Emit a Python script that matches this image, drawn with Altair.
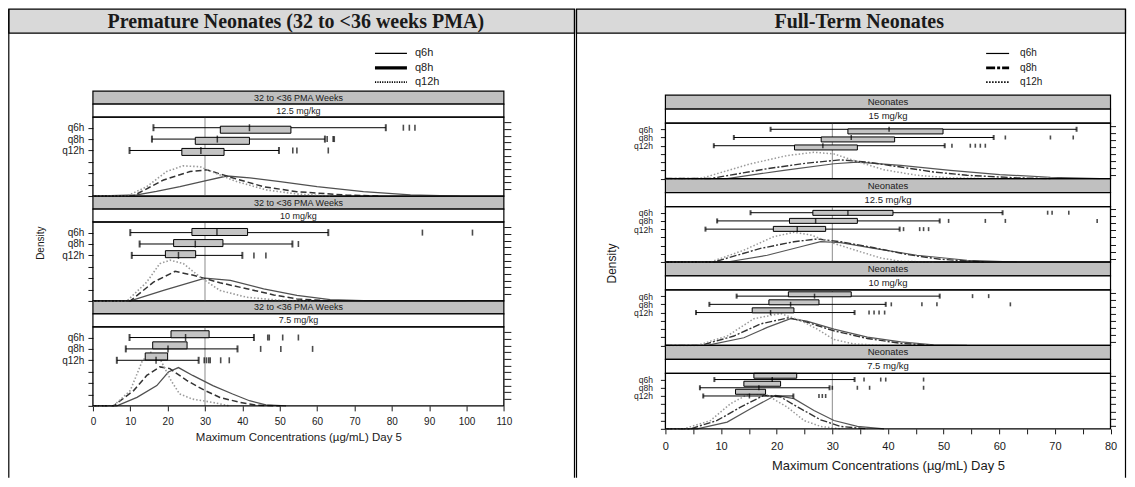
import altair as alt
import pandas as pd

# ---------------- data ----------------
REGIMENS = ["q6h", "q8h", "q12h"]
ROW_TICK = {"q6h": 6, "q8h": 5, "q12h": 4}

TITLE_LEFT = "Premature Neonates (32 to <36 weeks PMA)"
TITLE_RIGHT = "Full-Term Neonates"
STRIP_LEFT = "32 to <36 PMA Weeks"
STRIP_RIGHT = "Neonates"
DOSES_LEFT = ["12.5 mg/kg", "10 mg/kg", "7.5 mg/kg"]
DOSES_RIGHT = ["15 mg/kg", "12.5 mg/kg", "10 mg/kg", "7.5 mg/kg"]
X_TITLE_LEFT = "Maximum Concentrations (µg/mL) Day 5"
X_TITLE_RIGHT = "Maximum Concentrations (µg/mL)  Day 5"
X_TICKS_LEFT = [0, 10, 20, 30, 40, 50, 60, 70, 80, 90, 100, 110]
X_TICKS_RIGHT = [0, 5, 10, 15, 20, 25, 30, 35, 40, 45, 50, 55, 60, 65, 70, 75, 80]
REF_CONC = 30

# box stats: [whisker low, q1, median, q3, whisker high]
PRE_125_BOX = {"q6h": [16.2, 34.1, 41.9, 53.0, 78.4], "q8h": [15.8, 27.4, 33.3, 41.9, 62.1], "q12h": [9.8, 23.8, 28.9, 35.1, 49.8]}
PRE_125_OUT = {"q6h": [83.1, 84.7, 86.2], "q8h": [62.7, 64.3, 64.6], "q12h": [53.5, 54.6, 63.0]}
PRE_125_DEN = {
    "q6h": [(0, 0), (11.8, 0.1), (17, 0.4), (23.3, 0.82), (30, 1.34), (35.8, 1.76), (42, 1.6), (50.1, 1.27), (60, 0.82), (72.4, 0.38), (85, 0.1), (98.2, 0)],
    "q8h": [(0, 0), (10.7, 0), (18.9, 1.41), (26, 2.15), (30.5, 2.3), (36.8, 1.65), (45.7, 0.82), (54.6, 0.38), (68, 0.08), (77, 0)],
    "q12h": [(0, 0), (9.1, 0), (14.4, 0.82), (19.7, 2.15), (24.1, 2.65), (28.6, 2.58), (34, 1.85), (38.5, 1.27), (46.5, 0.53), (54.6, 0.18), (63.5, 0)],
}
PRE_10_BOX = {"q6h": [10.0, 26.5, 33.2, 41.4, 63.0], "q8h": [12.5, 21.6, 27.4, 34.8, 53.4], "q12h": [10.4, 19.4, 22.9, 27.5, 40.0]}
PRE_10_OUT = {"q6h": [88.2, 101.6], "q8h": [55.0], "q12h": [43.1, 46.3]}
PRE_10_DEN = {
    "q6h": [(0, 0), (10, 0), (18.9, 0.92), (30, 2.0), (36.8, 1.8), (45.7, 1.07), (54.6, 0.48), (63.5, 0.11), (72.4, 0.03), (100, 0)],
    "q8h": [(0, 0), (10, 0), (16.2, 1.65), (22, 2.6), (26.9, 2.25), (34, 1.6), (41.2, 1.07), (48.4, 0.53), (54.6, 0.18), (63.5, 0)],
    "q12h": [(0, 0), (9.1, 0), (14.4, 1.65), (17.9, 3.28), (20.7, 3.58), (24.2, 3.28), (28.7, 2.1), (34, 0.92), (41.2, 0.32), (50.1, 0.06), (59, 0)],
}
PRE_75_BOX = {"q6h": [9.8, 20.9, 24.8, 31.1, 43.1], "q8h": [8.8, 16.0, 20.1, 25.2, 38.7], "q12h": [6.4, 14.0, 16.9, 20.0, 28.3]}
PRE_75_OUT = {"q6h": [46.8, 47.2, 50.8, 55.0], "q8h": [44.9, 50.3, 58.8], "q12h": [29.8, 30.4, 31.0, 31.4, 34.2, 36.5]}
PRE_75_DEN = {
    "q6h": [(0, 0), (6.4, 0), (11.8, 0.74), (17.1, 1.78), (20.2, 2.97), (22.9, 3.36), (26.7, 2.67), (32.1, 1.78), (37.4, 1.04), (41.9, 0.45), (46.3, 0.09), (51.7, 0)],
    "q8h": [(0, 0), (5.5, 0), (10.9, 1.34), (14.4, 2.67), (17.9, 3.42), (20.6, 3.27), (25.1, 2.23), (30, 1.34), (34, 0.74), (39.4, 0.3), (43.9, 0.06), (50.1, 0)],
    "q12h": [(0, 0), (5.5, 0), (10, 1.34), (13.1, 3.86), (15.3, 4.75), (17.9, 4.16), (20.9, 2.23), (23.2, 1.04), (26.7, 0.59), (32.1, 0.3), (36.5, 0)],
}

TERM_15_BOX = {"q6h": [18.9, 32.8, 40.2, 49.9, 73.9], "q8h": [12.3, 28.0, 33.4, 41.2, 59.0], "q12h": [8.7, 23.2, 28.3, 34.5, 50.2]}
TERM_15_OUT = {"q6h": [], "q8h": [61.1, 69.2, 73.3], "q12h": [51.5, 54.8, 55.7, 56.6, 57.5]}
TERM_15_DEN = {
    "q6h": [(0, 0), (11.1, 0), (21.3, 1.0), (30.3, 1.8), (34.5, 2.0), (42.3, 1.6), (51.2, 1.0), (60.1, 0.48), (69.2, 0.16), (78.1, 0)],
    "q8h": [(0, 0), (8.1, 0), (18.3, 1.2), (25.4, 1.88), (31.5, 2.28), (36.3, 2.0), (42.3, 1.4), (48.2, 0.8), (54.2, 0.4), (63.2, 0.08), (69.2, 0)],
    "q12h": [(0, 0), (6.3, 0), (15.3, 1.8), (21.9, 2.8), (26.7, 3.2), (30.3, 3.0), (33.9, 2.2), (39.2, 1.08), (45.2, 0.4), (51.2, 0.08), (57.2, 0)],
}
TERM_125_BOX = {"q6h": [15.3, 26.5, 32.8, 40.9, 60.6], "q8h": [9.3, 22.3, 27.0, 34.5, 49.3], "q12h": [7.2, 19.4, 23.7, 28.8, 42.1]}
TERM_125_OUT = {"q6h": [68.7, 69.5, 72.5], "q8h": [50.9, 57.5, 61.1, 77.6], "q12h": [42.8, 45.7, 46.4, 47.3]}
TERM_125_DEN = {
    "q6h": [(0, 0), (11.1, 0), (18.3, 0.82), (24.3, 1.85), (27.9, 2.47), (31.5, 2.35), (37.5, 1.65), (45.2, 0.82), (54.2, 0.21), (63.2, 0)],
    "q8h": [(0, 0), (8.7, 0), (17.1, 1.65), (23.1, 2.47), (27.3, 2.8), (31.5, 2.47), (37.5, 1.73), (43.5, 0.9), (49.4, 0.33), (57.2, 0)],
    "q12h": [(0, 0), (8.1, 0), (14.1, 1.44), (19.5, 3.09), (23.1, 3.62), (26.1, 3.29), (30.3, 2.26), (35.1, 1.23), (38.7, 0.49), (42.3, 0.08), (48.2, 0)],
}
TERM_10_BOX = {"q6h": [12.8, 22.1, 26.8, 33.4, 49.3], "q8h": [7.9, 18.6, 22.5, 27.6, 39.6], "q12h": [5.5, 15.6, 18.9, 23.1, 34.0]}
TERM_10_OUT = {"q6h": [55.2, 58.1], "q8h": [40.6, 46.1, 48.8, 62.0], "q12h": [36.6, 37.5, 38.4, 39.4]}
TERM_10_DEN = {
    "q6h": [(0, 0), (7.5, 0), (14.1, 0.93), (18.3, 2.19), (22.5, 3.25), (25.4, 2.95), (30.3, 1.98), (36.3, 1.01), (42.3, 0.42), (48.2, 0.08), (54.2, 0)],
    "q8h": [(0, 0), (6.3, 0), (12.3, 1.14), (17.1, 2.62), (22.2, 3.38), (25.4, 2.83), (30.3, 1.77), (36.3, 0.84), (42.3, 0.25), (48.2, 0)],
    "q12h": [(0, 0), (5.7, 0), (11.1, 1.14), (15.9, 3.25), (20.7, 3.88), (24.3, 3.04), (27.3, 1.98), (30.3, 0.72), (33.9, 0.17), (39.2, 0)],
}
TERM_75_BOX = {"q6h": [8.8, 15.9, 19.2, 23.6, 34.0], "q8h": [6.2, 14.1, 16.8, 20.7, 29.5], "q12h": [6.8, 12.6, 15.1, 18.0, 23.0]}
TERM_75_OUT = {"q6h": [35.7, 38.7, 39.6, 46.4], "q8h": [30.0, 34.5, 36.7, 46.4], "q12h": [27.6, 28.2, 28.8]}
TERM_75_DEN = {
    "q6h": [(0, 0), (5.7, 0), (11.1, 0.82), (15.3, 2.45), (19.8, 4.08), (23.1, 3.67), (26.7, 2.24), (30.3, 1.02), (34.5, 0.29), (39.3, 0)],
    "q8h": [(0, 0), (4.5, 0), (9.3, 1.02), (13.5, 2.65), (17.7, 4.08), (20.7, 3.88), (24.3, 2.45), (27.9, 1.1), (31.5, 0.29), (36.3, 0)],
    "q12h": [(0, 0), (3.3, 0), (8.1, 1.0), (11.7, 3.06), (15.3, 4.37), (18.3, 4.08), (21.9, 2.65), (24.9, 1.02), (27.9, 0.29), (31.5, 0)],
}

FONT = "Liberation Sans"

G_LEFT = dict(
    title=TITLE_LEFT, title_x=203, strip=STRIP_LEFT, doses=DOSES_LEFT,
    boxes=[PRE_125_BOX, PRE_10_BOX, PRE_75_BOX], outs=[PRE_125_OUT, PRE_10_OUT, PRE_75_OUT],
    dens=[PRE_125_DEN, PRE_10_DEN, PRE_75_DEN],
    xmax=110, xticks=X_TICKS_LEFT, xlab_every=10, x_title=X_TITLE_LEFT,
    W=411.3, H=397, L=84.2, R=482.0, frame_bottom=469,
    unit=11.4, plot_h=79, strip_h=13,
    box=7, cap=7, out=6, strip_size=9,
    ylab_size=10, ylab_pad=4, ytitle_x=-47, ytitle_y=233.7, ytitle_size=10,
    xlab_size=10, xlab_pad=6, xtitle_size=11.5, xtitle_pad=5,
    rt_off=7, rt_step=6.67, rt_n=11, rt_size=7,
    leg_x0=282.3, leg_x1=314.3, leg_tx=322.3, leg_rows=[44.3, 58.7, 73], leg_size=11,
    leg_styles={"q6h": dict(strokeWidth=1.2), "q8h": dict(strokeWidth=3.2),
                "q12h": dict(strokeWidth=1.8, strokeDash=[1.2, 1.2])},
    line_styles={"q6h": dict(color="#505050", strokeWidth=1.3),
                 "q8h": dict(color="#333333", strokeWidth=1.5, strokeDash=[6, 3]),
                 "q12h": dict(color="#9a9a9a", strokeWidth=1.6, strokeDash=[1.5, 2])},
)

G_RIGHT = dict(
    title=TITLE_RIGHT, title_x=194, strip=STRIP_RIGHT, doses=DOSES_RIGHT,
    boxes=[TERM_15_BOX, TERM_125_BOX, TERM_10_BOX, TERM_75_BOX],
    outs=[TERM_15_OUT, TERM_125_OUT, TERM_10_OUT, TERM_75_OUT],
    dens=[TERM_15_DEN, TERM_125_DEN, TERM_10_DEN, TERM_75_DEN],
    xmax=80, xticks=X_TICKS_RIGHT, xlab_every=10, x_title=X_TITLE_RIGHT,
    W=445.5, H=420, L=89, R=460.5, frame_bottom=469,
    unit=8.22, plot_h=55.5, strip_h=14,
    box=5, cap=5, out=4, strip_size=9.5,
    ylab_size=8.5, ylab_pad=8, ytitle_x=-47, ytitle_y=254, ytitle_size=12,
    xlab_size=11, xlab_pad=6.5, xtitle_size=13, xtitle_pad=8,
    rt_off=3.3, rt_step=7.1, rt_n=8, rt_size=5,
    leg_x0=321, leg_x1=344, leg_tx=355, leg_rows=[44.3, 58.7, 73], leg_size=10,
    leg_styles={"q6h": dict(strokeWidth=1.2), "q8h": dict(strokeWidth=2.6, strokeDash=[9, 2, 3, 2]),
                "q12h": dict(strokeWidth=1.8, strokeDash=[1.5, 1.5])},
    line_styles={"q6h": dict(color="#555555", strokeWidth=1.2),
                 "q8h": dict(color="#333333", strokeWidth=1.4, strokeDash=[7, 2, 2, 2]),
                 "q12h": dict(color="#9a9a9a", strokeWidth=1.5, strokeDash=[1.5, 2])},
)


def build_side(G):
    W, H = G["W"], G["H"]
    nf = len(G["doses"])
    period = G["plot_h"] + 2 * G["strip_h"]
    unit = G["unit"]

    fac_rows, box_rows, cap_rows, out_rows, den_rows = [], [], [], [], []
    yt_left, lab_pairs, yt_right = [], [], []
    for i, dose in enumerate(G["doses"]):
        base = (nf - 1 - i) * period
        p1 = base + G["plot_h"]
        fac_rows.append(dict(facet=dose, x0=0, x1=G["xmax"], ref=REF_CONC, p0=base, p1=p1,
                             w0=p1, w1=p1 + G["strip_h"], g0=p1 + G["strip_h"], g1=base + period,
                             wc=p1 + G["strip_h"] / 2, gc=p1 + 1.5 * G["strip_h"],
                             strip=G["strip"], dose=dose))
        for k in range(7):
            yt_left.append(round(base + k * unit, 3))
        for j in range(G["rt_n"]):
            yt_right.append(round(base + G["rt_off"] + j * G["rt_step"], 3))
        for reg in REGIMENS:
            yrow = round(base + ROW_TICK[reg] * unit, 3)
            lab_pairs.append((yrow, reg))
            wlo, q1, med, q3, whi = G["boxes"][i][reg]
            box_rows.append(dict(facet=dose, regimen=reg, y=yrow, wlo=wlo, q1=q1, med=med, q3=q3, whi=whi))
            cap_rows.append(dict(x=wlo, y=yrow))
            cap_rows.append(dict(x=whi, y=yrow))
            for o in G["outs"][i][reg]:
                out_rows.append(dict(x=o, y=yrow))
            for n, (xv, dv) in enumerate(G["dens"][i][reg]):
                den_rows.append(dict(facet=dose, regimen=reg, i=n, x=xv, y=base + dv * unit))

    fac = pd.DataFrame(fac_rows)
    boxes = pd.DataFrame(box_rows)
    caps = pd.DataFrame(cap_rows)
    outs = pd.DataFrame(out_rows)
    den = pd.DataFrame(den_rows)
    one = pd.DataFrame({"k": [0]})

    XS = alt.Scale(domain=[0, G["xmax"]], nice=False, zero=False)
    XA = alt.Axis(values=G["xticks"],
                  labelExpr=f"datum.value % {G['xlab_every']} == 0 ? datum.label : ''",
                  tickSize=5, labelPadding=G["xlab_pad"], labelFontSize=G["xlab_size"],
                  labelFlush=False, labelOverlap=False,
                  title=G["x_title"], titleFontSize=G["xtitle_size"], titlePadding=G["xtitle_pad"],
                  domain=False, grid=False)

    def X(f):
        return alt.X(f, type="quantitative", scale=XS, axis=XA)

    def YS():
        return alt.Scale(domain=[0, H], nice=False, zero=False)

    def Y(f):
        return alt.Y(f, type="quantitative", scale=YS(), axis=None)

    expr = " : ".join(f"abs(datum.value - {v}) < 0.01 ? '{lab}'" for v, lab in lab_pairs) + " : ''"

    layers = []
    # outer frame + header band
    layers.append(alt.Chart(one).mark_rect(fill="#d9d9d9", stroke="black", strokeWidth=1.2).encode(
        x=alt.value(-G["L"]), x2=alt.value(G["R"]), y=alt.value(0), y2=alt.value(24)))
    for xv in (-G["L"], G["R"]):
        layers.append(alt.Chart(one).mark_rule(color="black", strokeWidth=1.2).encode(
            x=alt.value(xv), y=alt.value(0), y2=alt.value(G["frame_bottom"])))
    layers.append(alt.Chart(pd.DataFrame({"t": [G["title"]]})).mark_text(
        font="Liberation Serif", fontWeight="bold", fontSize=20, baseline="alphabetic",
        align="center", color="#1a1a1a").encode(
        x=alt.value(G["title_x"]), y=alt.value(19), text="t:N"))

    # legend
    for reg, yrow in zip(REGIMENS, G["leg_rows"]):
        layers.append(alt.Chart(one).mark_rule(color="black", **G["leg_styles"][reg]).encode(
            x=alt.value(G["leg_x0"]), x2=alt.value(G["leg_x1"]), y=alt.value(yrow)))
        layers.append(alt.Chart(one).mark_text(text=reg, align="left", baseline="middle",
                                               font=FONT, fontSize=G["leg_size"], color="#1a1a1a").encode(
            x=alt.value(G["leg_tx"]), y=alt.value(yrow)))

    # strips
    layers.append(alt.Chart(fac).mark_rect(fill="#c0c0c0", stroke="black", strokeWidth=1.2).encode(
        x=X("x0"), x2=alt.X2("x1"), y=Y("g0"), y2=alt.Y2("g1")))
    layers.append(alt.Chart(fac).mark_rect(fill="white", stroke="black", strokeWidth=1.2).encode(
        x=X("x0"), x2=alt.X2("x1"), y=Y("w0"), y2=alt.Y2("w1")))
    layers.append(alt.Chart(fac).mark_text(font=FONT, fontSize=G["strip_size"], color="#1a1a1a",
                                           baseline="middle").encode(
        x=alt.value(W / 2), y=Y("gc"), text="strip:N"))
    layers.append(alt.Chart(fac).mark_text(font=FONT, fontSize=G["strip_size"], color="#1a1a1a",
                                           baseline="middle").encode(
        x=alt.value(W / 2), y=Y("wc"), text="dose:N"))

    # reference line at 30 (carries the right-hand tick axis)
    layers.append(alt.Chart(fac).mark_rule(color="#8c8c8c", strokeWidth=1).encode(
        x=X("ref"),
        y=alt.Y("p0:Q", scale=YS(), axis=alt.Axis(orient="right", values=yt_right, labels=False,
                                                 tickSize=G["rt_size"], domain=False, grid=False,
                                                 title=None)),
        y2=alt.Y2("p1")))

    # density curves
    for reg in REGIMENS:
        layers.append(alt.Chart(den[den.regimen == reg]).mark_line(**G["line_styles"][reg]).encode(
            x=X("x"), y=Y("y"), detail="facet:N", order="i:Q"))

    # box plots
    layers.append(alt.Chart(boxes).mark_rule(color="black", strokeWidth=1).encode(
        x=X("wlo"), x2=alt.X2("whi"), y=Y("y")))
    layers.append(alt.Chart(boxes).mark_bar(size=G["box"], orient="horizontal", fill="#c4c4c4",
                                            stroke="black", strokeWidth=1).encode(
        x=X("q1"), x2=alt.X2("q3"), y=Y("y")))
    layers.append(alt.Chart(boxes).mark_tick(orient="vertical", size=G["box"], thickness=1.5,
                                             color="black").encode(x=X("med"), y=Y("y")))
    layers.append(alt.Chart(caps).mark_tick(orient="vertical", size=G["cap"], thickness=2,
                                            color="black").encode(x=X("x"), y=Y("y")))
    if len(outs):
        layers.append(alt.Chart(outs).mark_tick(orient="vertical", size=G["out"], thickness=1.6,
                                                color="black").encode(x=X("x"), y=Y("y")))

    # plot frames (carry the left axis)
    layers.append(alt.Chart(fac).mark_rect(fill="white", fillOpacity=0, stroke="black",
                                           strokeWidth=1.3).encode(
        x=X("x0"), x2=alt.X2("x1"),
        y=alt.Y("p0:Q", scale=YS(),
                axis=alt.Axis(orient="left", values=yt_left, labelExpr=expr, tickSize=5,
                              labelPadding=G["ylab_pad"], labelFontSize=G["ylab_size"],
                              labelOverlap=False, domain=False, grid=False,
                              title="Density", titleX=G["ytitle_x"], titleY=G["ytitle_y"],
                              titleFontSize=G["ytitle_size"], titleAngle=-90)),
        y2=alt.Y2("p1")))

    return alt.layer(*layers).resolve_scale(y="independent").properties(width=W, height=H)


left = build_side(G_LEFT)
right = build_side(G_RIGHT)

chart = alt.hconcat(left, right, spacing=0).properties(padding=0, background="white").configure_view(
    stroke=None
).configure_axis(
    labelFont=FONT, titleFont=FONT, labelColor="#1a1a1a", titleColor="#1a1a1a",
    tickColor="#1a1a1a", titleFontWeight="normal"
)

chart.save("out.html", embed_options={"renderer": "svg", "actions": False})
